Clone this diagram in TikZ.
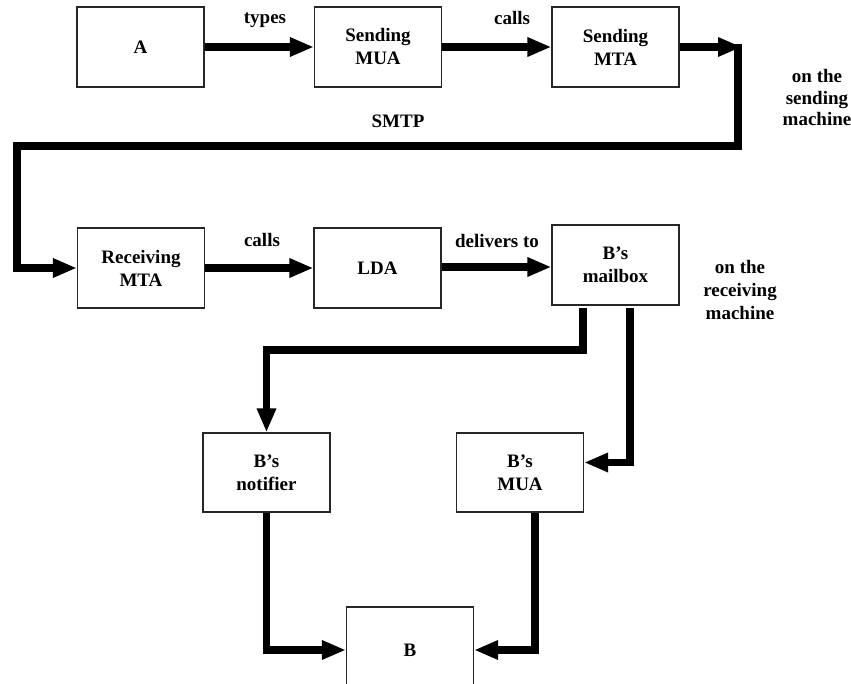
\documentclass[tikz,border=0pt]{standalone}
\usepackage{fontspec}
\setmainfont{Liberation Serif}
\usetikzlibrary{arrows.meta}
\begin{document}
\begin{tikzpicture}[x=1pt,y=-1pt,
  box/.style={draw=black!85,line width=1.2pt,rectangle,inner sep=0pt,
    minimum width=127pt,minimum height=80pt,align=center,
    font=\fontsize{19}{23}\selectfont\bfseries},
  lbl/.style={align=center,font=\fontsize{19}{23}\selectfont\bfseries},
  conn/.style={line width=7.5pt,line join=miter,
    -{Triangle[length=24pt,width=18pt]}},
  plain/.style={line width=7.5pt,line join=miter}]
\clip (0,0) rectangle (851,684);
\fill[white] (0,0) rectangle (851,684);
% nodes
\node[box] (A) at (140.5,47) {A};
\node[box] (smua) at (378,47) {Sending\\MUA};
\node[box] (smta) at (615.5,47) {Sending\\MTA};
\node[box] (rmta) at (141,268) {Receiving\\MTA};
\node[box] (lda) at (377.5,268) {LDA};
\node[box] (mbox) at (615.5,265) {B’s\\mailbox};
\node[box,minimum height=79pt] (notif) at (266.5,472.5) {B’s\\notifier};
\node[box,minimum height=79pt] (bmua) at (520,472.5) {B’s\\MUA};
\node[box,minimum height=86pt] (B) at (410,650) {B};
% labels
\node[lbl] (ltypes) at (265,20) {types};
\node[lbl] (lcalls1) at (512,18) {calls};
\node[lbl] (lsmtp) at (398,121) {SMTP};
\node[lbl] (lcalls2) at (262,240) {calls};
\node[lbl] (ldeliv) at (497,241) {delivers to};
\node[lbl,font=\fontsize{19}{21.5}\selectfont\bfseries] (lsend) at (817,98) {on the\\sending\\machine};
\node[lbl] (lrecv) at (740,290) {on the\\receiving\\machine};
% coordinates
\coordinate (c1) at (742,47);
\coordinate (c1a) at (738,44);
\coordinate (c3) at (17,146);
\coordinate (m1) at (583,308);
\coordinate (m2) at (583,350);
\coordinate (m3) at (630,308);
% connectors
\draw[conn] (A) -- (smua);
\draw[conn] (smua) -- (smta);
\draw[conn] (smta) -- (c1);
\draw[conn] (c1a) |- (c3) |- (rmta.west);
\draw[conn] (rmta) -- (lda);
\draw[conn] ([yshift=1pt]lda.east) -- ([yshift=1pt]lda.east -| mbox.west);
\draw[conn] (m1) -- (m2) -| (notif.north);
\draw[conn] (m3) |- ([yshift=10pt]bmua.east);
\draw[conn] (notif.south) |- (B.west);
\draw[conn] ([xshift=15pt]bmua.south) |- (B.east);
\end{tikzpicture}
\end{document}
